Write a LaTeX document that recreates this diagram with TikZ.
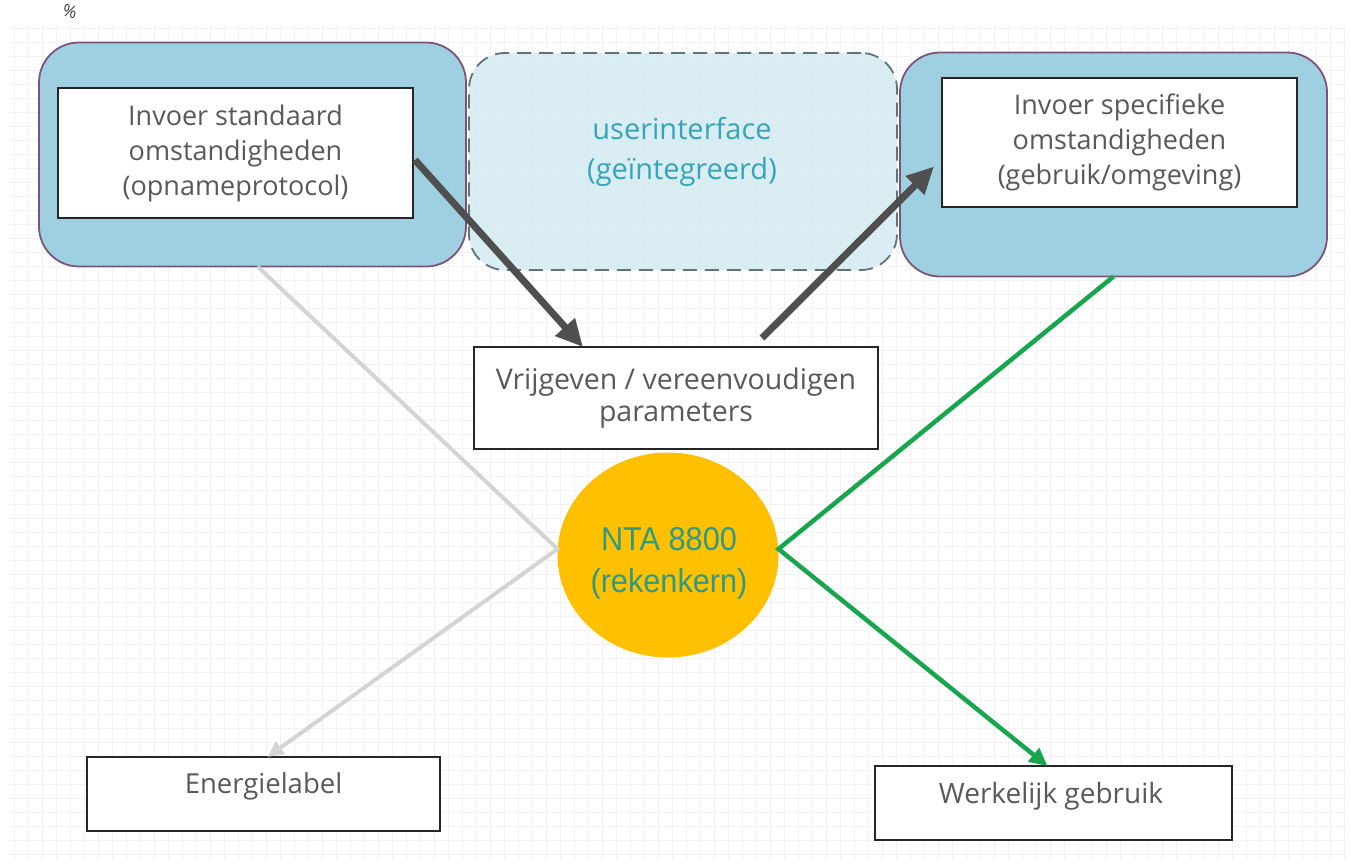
\documentclass[tikz,border=0pt]{standalone}
\usepackage{fontspec}
\setmainfont{Open Sans}
\newfontfamily\ntafont[FakeStretch=0.93]{Liberation Sans}
\usetikzlibrary{arrows.meta,shapes.geometric}
\definecolor{boxfill}{HTML}{9FD0E1}
\definecolor{boxborder}{HTML}{7D5379}
\definecolor{uifill}{HTML}{D3EAF2}
\definecolor{uiborder}{HTML}{5F7479}
\definecolor{uitext}{HTML}{36A5B8}
\definecolor{txtgray}{HTML}{595959}
\definecolor{darkarrow}{HTML}{4F4F4F}
\definecolor{lightline}{HTML}{D4D4D4}
\definecolor{greenline}{HTML}{17A64E}
\definecolor{ntafill}{HTML}{FFC000}
\definecolor{ntatext}{HTML}{2E9A86}
\definecolor{gridc}{HTML}{F2F2F2}
\tikzset{
  bluebox/.style={draw=boxborder, fill=boxfill, line width=1.8pt, rounded corners=40pt,
    minimum width=427pt, minimum height=224pt, inner sep=0pt, outer sep=0pt},
  uibox/.style={draw=uiborder, fill=uifill, fill opacity=0.85, line width=1.8pt,
    dash pattern=on 14pt off 8pt, rounded corners=36pt,
    minimum width=428pt, minimum height=217pt, inner sep=0pt, outer sep=0pt},
  whitebox/.style={draw=black!85, fill=white, line width=1.8pt, inner sep=0pt, outer sep=0pt,
    align=center, text=txtgray, font=\fontsize{27}{35}\selectfont},
  plaintext/.style={inner sep=0pt, outer sep=0pt, align=center},
  darkarr/.style={draw=darkarrow, line width=7pt, -{Triangle[length=27pt,width=25pt]}},
  grayarr/.style={draw=lightline, line width=4pt, -{Triangle[length=16pt,width=15pt]}},
  greenarr/.style={draw=greenline, line width=4.5pt, -{Triangle[length=18pt,width=17pt]}},
}
\begin{document}
\begin{tikzpicture}[x=1pt,y=-1pt]
\useasboundingbox (0,0) rectangle (1350,863);
\fill[white] (0,0) rectangle (1350,863);
\draw[gridc, line width=0.8pt, step=14pt] (8,860) grid (1346,26);

\node[plaintext, text=black!75, font=\fontsize{17}{18}\selectfont, rotate=-15] (mark) at (70,11) {\%};

% big boxes
\node[bluebox] (lbox) at (252.5,154.5) {};
\node[bluebox] (rbox) at (1113.5,164.5) {};
\node[uibox] (ui) at (683,161.5) {};
\node[plaintext, text=uitext, font=\fontsize{29}{40}\selectfont] (uitxt) at (682,152)
  {userinterface\\(geïntegreerd)};

% inner boxes
\node[whitebox, minimum width=355pt, minimum height=130pt] (lin) at (235.5,153)
  {Invoer standaard\\omstandigheden\\(opnameprotocol)};
\node[whitebox, minimum width=355pt, minimum height=129pt] (rin) at (1119.5,142.5)
  {Invoer specifieke\\omstandigheden\\(gebruik/omgeving)};
\node[whitebox, minimum width=404pt, minimum height=102pt, font=\fontsize{28.5}{32}\selectfont] (mid) at (676,398)
  {Vrijgeven / vereenvoudigen\\parameters};

% circle
\node[ellipse, fill=ntafill, minimum width=221pt, minimum height=205pt, inner sep=0pt, outer sep=0pt]
  (nta) at (668,555) {};
\node[plaintext, text=ntatext, font=\ntafont\fontsize{33}{42}\selectfont] (ntatxt) at (669,563)
  {NTA 8800\\(rekenkern)};

% bottom boxes
\node[whitebox, minimum width=353pt, minimum height=74pt] (el) at (263.5,794) {};
\node[plaintext, text=txtgray, font=\fontsize{27.5}{34}\selectfont] (eltxt) at (263.5,786) {Energielabel};
\node[whitebox, minimum width=357pt, minimum height=74pt] (wg) at (1053.5,803) {};
\node[plaintext, text=txtgray, font=\fontsize{28}{34}\selectfont] (wgtxt) at (1051,796) {Werkelijk gebruik};

% connectors
\draw[grayarr, line join=miter] ([xshift=5pt]lbox.south) -- ([yshift=6pt]nta.west) -- ([xshift=4pt]el.north);
\draw[greenarr, line join=miter] (rbox.south) -- ([yshift=6pt]nta.east) -- ([xshift=-6pt]wg.north);
\draw[darkarr] ([xshift=2pt,yshift=-7pt]lin.east) -- ([xshift=-93pt]mid.north);
\draw[darkarr] ([xshift=86pt,yshift=9pt]mid.north) -- ([xshift=-8pt,yshift=-24pt]rin.west);
\end{tikzpicture}
\end{document}
